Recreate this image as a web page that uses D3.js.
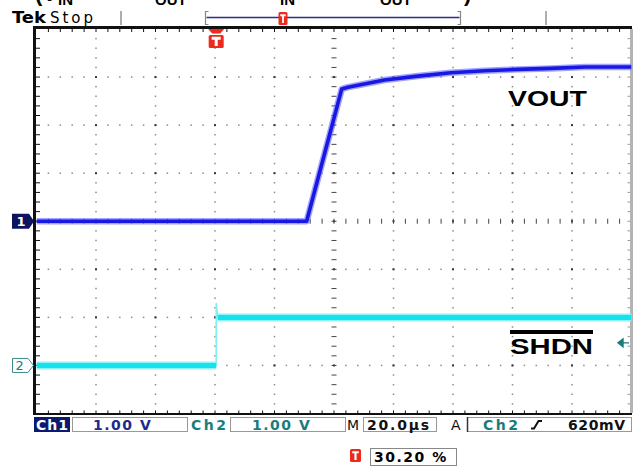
<!DOCTYPE html>
<html>
<head>
<meta charset="utf-8">
<script src="https://d3js.org/d3.v7.min.js"></script>
<style>
  body { margin: 0; background: #fff; }
  svg { display: block; }
</style>
</head>
<body>
<svg id="scope"></svg>
<script>
//constants
const W = 638, H = 471;
const grid = {left: 36.5, right: 631.5, top: 29, bottom: 413.5};
const scopeFont = "'DejaVu Sans', Verdana, sans-serif";
const labelFont = "'Liberation Sans', Arial, sans-serif";

//acquisition settings
const channels = ["Ch1", "Ch2"];
const voltsPerDiv = [1.00, 1.00];
const offsetDiv = [0, -3];
const timePerDiv = 20.0;      // µs
const triggerPct = 30.20;
const trigSource = "Ch2";
const trigLevel = "620mV";
const trigMarkV = 0.47;

//VOUT trace (time in µs, volts)
const ch1Time = [-60.4, 30.4, 42.2, 44.3, 48.5, 56.6, 67.8, 78.9, 90.3, 101.4, 112.5, 123.9, 139.6];
const ch1Volt = [0, 0, 2.75, 2.79, 2.84, 2.94, 3.02, 3.09, 3.13, 3.16, 3.18, 3.21, 3.21];

//SHDN trace
const ch2Time = [-60.4, 0, 0, 0.5, 139.6];
const ch2Volt = [0, 0, 1.30, 1.00, 1.00];

const traceLabels = ["VOUT", "SHDN"];

//scales
const tStart = -triggerPct / 100 * 10 * timePerDiv;
const xScale = d3.scaleLinear()
    .domain([tStart, tStart + 10 * timePerDiv])
    .range([grid.left, grid.right]);
const divX = d3.scaleLinear().domain([0, 10]).range([grid.left, grid.right]);
const divY = d3.scaleLinear().domain([-4, 4]).range([grid.bottom, grid.top]);
const yCh = ch => v => divY(v / voltsPerDiv[ch] + offsetDiv[ch]);

const svg = d3.select("#scope")
    .attr("width", W)
    .attr("height", H)
    .style("background-color", "#fff");

svg.append("defs").append("clipPath")
    .attr("id", "plot")
    .append("rect")
    .attr("x", grid.left).attr("y", grid.top)
    .attr("width", grid.right - grid.left)
    .attr("height", grid.bottom - grid.top);

//caption above the screen (cut off by the page top)
const cap = svg.append("g").style("font-family", labelFont).style("font-weight", "bold").attr("fill", "#000");
const capParts = [
    {t: "(V", x: 57, y: 1, s: 22, a: "end"},
    {t: "IN", x: 58, y: 5, s: 15, a: "start"},
    {t: " = V", x: 153, y: -1.5, s: 22, a: "end"},
    {t: "OUT", x: 155, y: 5, s: 15, a: "start"},
    {t: " + 1V V", x: 278, y: -1.5, s: 22, a: "end"},
    {t: "IN", x: 280, y: 5, s: 15, a: "start"},
    {t: " = V", x: 378, y: -1.5, s: 22, a: "end"},
    {t: "OUT", x: 380, y: 5, s: 15, a: "start"},
    {t: ")", x: 464, y: 1, s: 22, a: "start"}
];
cap.selectAll("text")
    .data(capParts)
    .enter()
    .append("text")
    .attr("x", d => d.x).attr("y", d => d.y)
    .attr("text-anchor", d => d.a)
    .style("font-size", d => d.s + "px")
    .text(d => d.t);

//top status line
svg.append("text")
    .attr("x", 12).attr("y", 23)
    .style("font-family", scopeFont).style("font-weight", "bold").style("font-size", "15px")
    .attr("textLength", 34).attr("lengthAdjust", "spacingAndGlyphs")
    .text("Tek");
svg.append("text")
    .attr("x", 50).attr("y", 23)
    .style("font-family", scopeFont).style("font-size", "15px")
    .attr("textLength", 43)
    .text("Stop");

[121, 546].forEach(x => {
    svg.append("line").attr("x1", x).attr("x2", x).attr("y1", 11).attr("y2", 25)
        .attr("stroke", "#777").attr("stroke-width", 1.2);
});

//record window bracket
const recL = 205.5, recR = 460.5;
svg.append("path")
    .attr("d", `M${recL + 3},11.5 H${recL} V24.5 H${recL + 3} M${recR - 3},11.5 H${recR} V24.5 H${recR - 3}`)
    .attr("fill", "none").attr("stroke", "#888").attr("stroke-width", 1.2);
svg.append("line")
    .attr("x1", recL + 1).attr("x2", recR - 1).attr("y1", 17.5).attr("y2", 17.5)
    .attr("stroke", "#2b2f86").attr("stroke-width", 1.6);

function trigIcon(g, x, y, w, h) {
    g.append("rect").attr("x", x).attr("y", y).attr("width", w).attr("height", h)
        .attr("rx", 1.5).attr("fill", "#ee2a1c");
    g.append("path")
        .attr("d", `M${x + w * 0.2},${y + h * 0.25} H${x + w * 0.8} M${x + w / 2},${y + h * 0.25} V${y + h * 0.85}`)
        .attr("stroke", "#fff").attr("stroke-width", Math.max(1.5, w * 0.2)).attr("fill", "none");
}
const trigX = xScale(0);
trigIcon(svg, 278.5, 12, 9, 13);

//graticule dots
const gDots = svg.append("g").attr("fill", "#8c8c8c");
const fine = d3.range(0, 50.01, 1).map(d => d / 5);
const fineY = d3.range(-20, 20.01, 1).map(d => d / 5);

[1, 2, 3, 4, 6, 7, 8, 9].forEach(i => {
    gDots.selectAll(null)
        .data(fineY.filter(v => v > -4 && v < 4))
        .enter()
        .append("rect")
        .attr("x", divX(i) - 0.75).attr("y", d => divY(d) - 0.75)
        .attr("width", 1.5).attr("height", 1.5);
});
[-3, -2, -1, 1, 2, 3].forEach(j => {
    gDots.selectAll(null)
        .data(fine.filter(v => v > 0 && v < 10))
        .enter()
        .append("rect")
        .attr("x", d => divX(d) - 0.75).attr("y", divY(j) - 0.75)
        .attr("width", 1.5).attr("height", 1.5);
});
//intersections
const gInt = svg.append("g").attr("fill", "#3a3a3a");
d3.range(1, 10).forEach(i => {
    d3.range(-3, 4).forEach(j => {
        gInt.append("rect")
            .attr("x", divX(i) - 1).attr("y", divY(j) - 1)
            .attr("width", 2).attr("height", 2);
    });
});

//centre crosshair with minor ticks
const gCross = svg.append("g").attr("stroke", "#444").attr("stroke-width", 1);
gCross.selectAll(null)
    .data(fineY.filter(v => v > -4 && v < 4))
    .enter()
    .append("line")
    .attr("x1", divX(5) - 2.5).attr("x2", divX(5) + 2.5)
    .attr("y1", d => divY(d)).attr("y2", d => divY(d));
gCross.selectAll(null)
    .data(fine.filter(v => v > 0 && v < 10))
    .enter()
    .append("line")
    .attr("x1", d => divX(d)).attr("x2", d => divX(d))
    .attr("y1", divY(0) - 2.5).attr("y2", divY(0) + 2.5);

//frame ticks
const gTicks = svg.append("g").attr("stroke", "#111").attr("stroke-width", 1);
gTicks.selectAll(null)
    .data(fineY.filter(v => v > -4 && v < 4))
    .enter()
    .append("line")
    .attr("x1", grid.left - 1).attr("x2", grid.left + 3.5)
    .attr("y1", d => divY(d)).attr("y2", d => divY(d));
gTicks.selectAll(null)
    .data(fine.filter(v => v > 0 && v < 10))
    .enter()
    .append("line")
    .attr("x1", d => divX(d)).attr("x2", d => divX(d))
    .attr("y1", grid.top).attr("y2", grid.top + 3);
gTicks.selectAll(null)
    .data(fine.filter(v => v > 0 && v < 10))
    .enter()
    .append("line")
    .attr("x1", d => divX(d)).attr("x2", d => divX(d))
    .attr("y1", grid.bottom).attr("y2", grid.bottom - 3);
svg.append("g").attr("stroke", "#999").selectAll(null)
    .data(fineY.filter(v => v > -4 && v < 4))
    .enter()
    .append("line")
    .attr("x1", grid.right - 4).attr("x2", grid.right)
    .attr("y1", d => divY(d)).attr("y2", d => divY(d));

//frame
svg.append("line").attr("x1", 33).attr("x2", 632).attr("y1", 27.5).attr("y2", 27.5)
    .attr("stroke", "#111").attr("stroke-width", 3);
svg.append("line").attr("x1", 34.5).attr("x2", 34.5).attr("y1", 26).attr("y2", 415)
    .attr("stroke", "#111").attr("stroke-width", 3);
svg.append("line").attr("x1", 33).attr("x2", 632).attr("y1", 414).attr("y2", 414)
    .attr("stroke", "#111").attr("stroke-width", 2);
svg.append("line").attr("x1", 631.5).attr("x2", 631.5).attr("y1", 29).attr("y2", 413)
    .attr("stroke", "#b4b4b4").attr("stroke-width", 3);

//traces
const traces = svg.append("g").attr("clip-path", "url(#plot)");
const ch1Data = ch1Time.map((t, i) => ({t: t, v: ch1Volt[i]}));
const ch2Data = ch2Time.map((t, i) => ({t: t, v: ch2Volt[i]}));
const line1 = d3.line().x(d => xScale(d.t)).y(d => yCh(0)(d.v));
const line2 = d3.line().x(d => xScale(d.t)).y(d => yCh(1)(d.v));

traces.append("path").datum(ch2Data).attr("d", line2)
    .attr("fill", "none").attr("stroke", "#7ef0f4").attr("stroke-width", 1.6);
[ch2Data.slice(0, 2), ch2Data.slice(3)].forEach(seg => {
    traces.append("path").datum(seg).attr("d", line2)
        .attr("fill", "none").attr("stroke", "#8ef3f6").attr("stroke-width", 8);
    traces.append("path").datum(seg).attr("d", line2)
        .attr("fill", "none").attr("stroke", "#14e2ec").attr("stroke-width", 5);
});

traces.append("path").datum(ch1Data).attr("d", line1)
    .attr("fill", "none").attr("stroke", "#7070ff").attr("stroke-width", 6.5)
    .attr("stroke-linejoin", "round").attr("opacity", 0.65);
traces.append("path").datum(ch1Data).attr("d", line1)
    .attr("fill", "none").attr("stroke", "#1818e4").attr("stroke-width", 3.6)
    .attr("stroke-linejoin", "round");

//trace labels
svg.append("text")
    .attr("x", 508).attr("y", 106)
    .style("font-family", labelFont).style("font-weight", "bold").style("font-size", "22px")
    .attr("textLength", 79).attr("lengthAdjust", "spacingAndGlyphs")
    .text(traceLabels[0]);
svg.append("text")
    .attr("x", 510).attr("y", 354)
    .style("font-family", labelFont).style("font-weight", "bold").style("font-size", "22px")
    .attr("textLength", 83).attr("lengthAdjust", "spacingAndGlyphs")
    .text(traceLabels[1]);
svg.append("rect").attr("x", 510).attr("y", 330).attr("width", 83).attr("height", 4).attr("fill", "#000");

//trigger position marker
const tm = svg.append("g");
tm.append("path")
    .attr("d", `M${trigX - 8},29 H${trigX + 8} L${trigX + 4},33.5 H${trigX - 4} Z`)
    .attr("fill", "#ee2a1c");
trigIcon(tm, trigX - 7.5, 35, 15, 13);

//trigger level marker
const tly = yCh(1)(trigMarkV);
svg.append("path")
    .attr("d", `M618,${tly} L623,${tly - 4} V${tly + 4} Z M622,${tly} H629`)
    .attr("fill", "#1b7c7c").attr("stroke", "#1b7c7c").attr("stroke-width", 1.4);

//channel ground markers
const y1 = yCh(0)(0), y2 = yCh(1)(0);
svg.append("path")
    .attr("d", `M12,${y1 - 7.5} H29 L34,${y1} L29,${y1 + 7.5} H12 Z`)
    .attr("fill", "#0c1460");
svg.append("text").attr("x", 16.5).attr("y", y1 + 5)
    .style("font-family", scopeFont).style("font-weight", "bold").style("font-size", "13px")
    .attr("fill", "#fff").text("1");
svg.append("path")
    .attr("d", `M12.5,${y2 - 7} H28 L33.5,${y2} L28,${y2 + 7} H12.5 Z`)
    .attr("fill", "#fff").attr("stroke", "#3a8c8c").attr("stroke-width", 1);
svg.append("text").attr("x", 15.5).attr("y", y2 + 5)
    .style("font-family", scopeFont).style("font-size", "13px")
    .attr("fill", "#2a7a7a").text("2");

//bottom status bar
const sb = svg.append("g").style("font-family", scopeFont).style("font-size", "14px");
const vFmt = v => d3.format(".2f")(v) + " V";

sb.append("rect").attr("x", 34).attr("y", 417).attr("width", 36).attr("height", 15).attr("fill", "#0c1a6e");
sb.append("text").attr("x", 36).attr("y", 429.5).attr("fill", "#fff").style("font-weight", "bold")
    .attr("textLength", 32).text(channels[0]);
sb.append("rect").attr("x", 72.5).attr("y", 417.5).attr("width", 115).attr("height", 14)
    .attr("fill", "none").attr("stroke", "#999");
sb.append("text").attr("x", 93).attr("y", 429.5).attr("fill", "#1c2a8c").style("font-weight", "bold")
    .style("letter-spacing", "1.5px").text(vFmt(voltsPerDiv[0]));

sb.append("text").attr("x", 191).attr("y", 429.5).attr("fill", "#1b7c7c").style("font-weight", "bold")
    .attr("textLength", 35).text(channels[1]);
sb.append("rect").attr("x", 230.5).attr("y", 417.5).attr("width", 115).attr("height", 14)
    .attr("fill", "none").attr("stroke", "#999");
sb.append("text").attr("x", 252).attr("y", 429.5).attr("fill", "#1b7c7c").style("font-weight", "bold")
    .style("letter-spacing", "1.5px").text(vFmt(voltsPerDiv[1]));

sb.append("text").attr("x", 347).attr("y", 429.5).attr("fill", "#111").text("M");
sb.append("rect").attr("x", 363.5).attr("y", 417.5).attr("width", 73).attr("height", 14)
    .attr("fill", "none").attr("stroke", "#999");
sb.append("text").attr("x", 367).attr("y", 429.5).attr("fill", "#111").style("font-weight", "bold")
    .style("letter-spacing", "1.8px").text(d3.format(".1f")(timePerDiv) + "µs");

sb.append("text").attr("x", 451).attr("y", 429.5).attr("fill", "#111").text("A");
sb.append("rect").attr("x", 467.5).attr("y", 417.5).attr("width", 164).attr("height", 14)
    .attr("fill", "none").attr("stroke", "#999");
sb.append("line").attr("x1", 467.5).attr("x2", 467.5).attr("y1", 417).attr("y2", 432)
    .attr("stroke", "#333").attr("stroke-width", 1.5);
sb.append("text").attr("x", 483).attr("y", 429.5).attr("fill", "#1b7c7c").style("font-weight", "bold")
    .attr("textLength", 35).text(trigSource);
sb.append("path").attr("d", "M531,428.5 H534 L538.5,421 H542")
    .attr("fill", "none").attr("stroke", "#111").attr("stroke-width", 2);
sb.append("text").attr("x", 568).attr("y", 429.5).attr("fill", "#111").style("font-weight", "bold")
    .style("letter-spacing", "0.6px").text(trigLevel);

//trigger percent readout
trigIcon(svg, 350, 449, 11, 13);
svg.append("rect").attr("x", 370.5).attr("y", 448.5).attr("width", 86).attr("height", 17)
    .attr("fill", "none").attr("stroke", "#888");
svg.append("text").attr("x", 374).attr("y", 462)
    .style("font-family", scopeFont).style("font-weight", "bold").style("font-size", "14px")
    .style("letter-spacing", "1.5px")
    .text(d3.format(".2f")(triggerPct) + " %");
</script>
</body>
</html>
